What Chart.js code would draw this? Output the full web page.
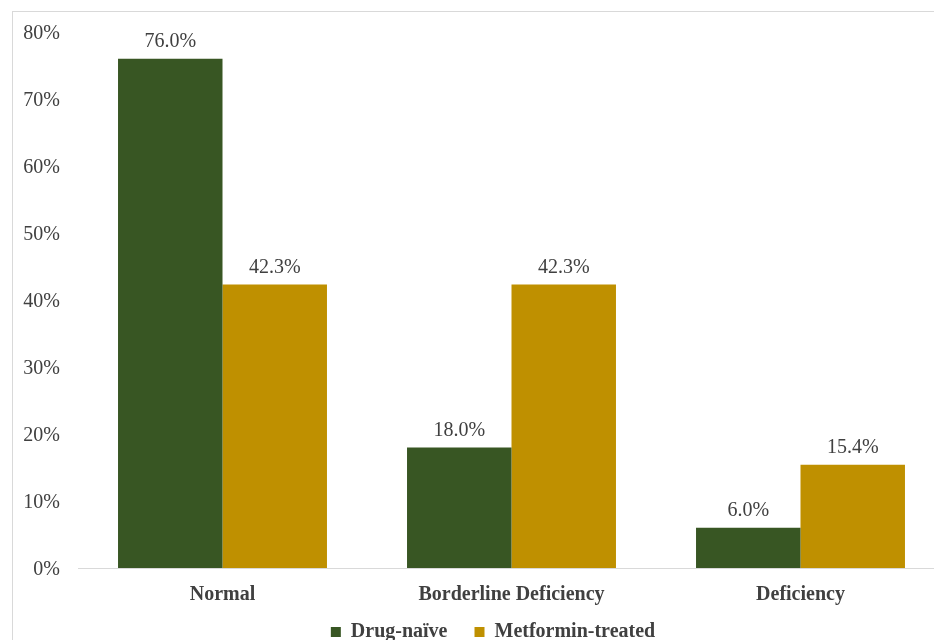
<!DOCTYPE html>
<html>
<head>
<meta charset="utf-8">
<title>Vitamin B12 status by treatment group</title>
<script src="https://cdn.jsdelivr.net/npm/chart.js@4/dist/chart.umd.min.js"></script>
<style>
  html, body { margin: 0; padding: 0; background: #ffffff; overflow: hidden; width: 934px; height: 640px; }
  #frame { position: absolute; left: 12px; top: 11px; width: 960px; height: 720px; border: 1px solid #d9d9d9; background: #ffffff; }
  #chart { position: absolute; left: 0; top: 0; }
</style>
</head>
<body>
<div id="frame"><canvas id="chart" width="932" height="700"></canvas></div>
<script>
// Categories of B12 status and the share of each group in them (%)
const categories = ["Normal", "Borderline Deficiency", "Deficiency"];
const drugNaive = [76.0, 18.0, 6.0];
const metforminTreated = [42.3, 42.3, 15.4];
const seriesNames = ["Drug-naïve", "Metformin-treated"];
const yTicks = [0, 10, 20, 30, 40, 50, 60, 70, 80];

const GREEN = "#385623";
const GOLD = "#bf9000";
const TEXT = "#404040";
const SERIF = "'Liberation Serif', 'Times New Roman', serif";

// Layout targets inside the canvas
const AREA_TOP = 20, AREA_BOTTOM = 556, AXIS_WIDTH = 65;
const LEGEND_CX = 480, LEGEND_CY = 620;

// Value labels above each bar
const barValueLabels = {
  id: "barValueLabels",
  afterDatasetsDraw(chart) {
    const ctx = chart.ctx;
    ctx.save();
    ctx.font = "20px " + SERIF;
    ctx.fillStyle = TEXT;
    ctx.textAlign = "center";
    ctx.textBaseline = "middle";
    chart.data.datasets.forEach((ds, i) => {
      chart.getDatasetMeta(i).data.forEach((bar, j) => {
        ctx.fillText(ds.data[j].toFixed(1) + "%", bar.x, bar.y - 17);
      });
    });
    ctx.restore();
  }
};

// Place the legend row at its own centre line
const legendPlacement = {
  id: "legendPlacement",
  afterLayout(chart) {
    const lg = chart.legend;
    if (!lg) return;
    const pad = lg.options.labels.padding;
    const dx = LEGEND_CX - (lg.left + lg.right) / 2;
    const dy = LEGEND_CY - (lg.top + pad + 10);
    lg.left += dx; lg.right += dx;
    lg.top += dy; lg.bottom += dy;
    if (lg.adjustHitBoxes) lg.adjustHitBoxes();
  }
};

const chart = new Chart(document.getElementById("chart"), {
  type: "bar",
  data: {
    labels: categories,
    datasets: [
      { label: seriesNames[0], data: drugNaive, backgroundColor: GREEN, borderWidth: 0 },
      { label: seriesNames[1], data: metforminTreated, backgroundColor: GOLD, borderWidth: 0 }
    ]
  },
  options: {
    responsive: false,
    animation: false,
    devicePixelRatio: 1,
    layout: { padding: { left: 0, right: 0, top: AREA_TOP, bottom: 0 } },
    datasets: { bar: { categoryPercentage: 0.723, barPercentage: 1.0 } },
    scales: {
      x: {
        grid: { display: false, drawTicks: false },
        border: { display: true, color: "#d9d9d9", width: 1 },
        ticks: { color: TEXT, font: { family: SERIF, size: 20, weight: "bold" }, padding: 15, maxRotation: 0 }
      },
      y: {
        min: 0, max: 80,
        afterFit(s) { s.width = AXIS_WIDTH; s.paddingTop = 0; s.paddingBottom = 0; },
        afterBuildTicks(s) { s.ticks = yTicks.map(v => ({ value: v })); },
        grid: { display: false, drawTicks: false },
        border: { display: false },
        ticks: { color: TEXT, font: { family: SERIF, size: 20 }, padding: 18, labelOffset: 2, callback: v => v + "%" }
      }
    },
    plugins: {
      legend: {
        position: "bottom",
        labels: {
          color: TEXT,
          font: { family: SERIF, size: 20, weight: "bold" },
          boxWidth: 10, boxHeight: 10, padding: 27
        }
      },
      tooltip: { enabled: false }
    }
  },
  plugins: [barValueLabels, legendPlacement]
});

// Fit the plot area to its top and baseline positions
for (let pass = 0; pass < 4; pass++) {
  const pad = chart.options.layout.padding;
  const dTop = chart.chartArea.top - AREA_TOP;
  const dBottom = chart.chartArea.bottom - AREA_BOTTOM;
  if (Math.abs(dTop) < 0.5 && Math.abs(dBottom) < 0.5) break;
  pad.top = Math.max(0, pad.top - dTop);
  pad.bottom = Math.max(0, pad.bottom + dBottom);
  chart.update();
}
</script>
</body>
</html>
